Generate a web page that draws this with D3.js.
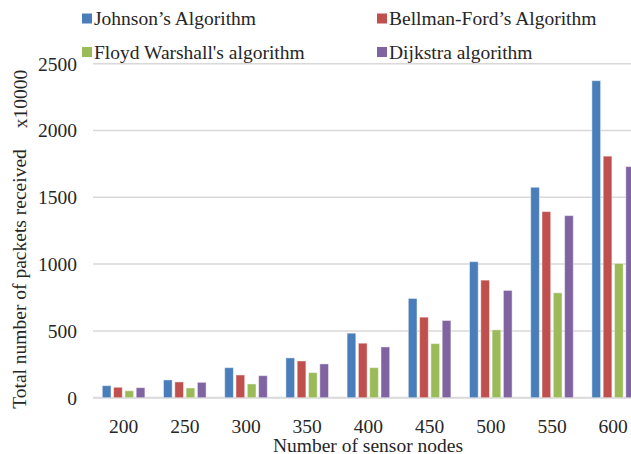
<!DOCTYPE html>
<html>
<head>
<meta charset="utf-8">
<script src="https://cdn.jsdelivr.net/npm/d3@7"></script>
<style>
  html, body { margin: 0; padding: 0; background: #fff; }
  svg { display: block; }
  svg text { font-family: 'Liberation Serif', 'Times New Roman', Times, serif; }
</style>
</head>
<body>
<svg id="chart" width="631" height="454"></svg>
<script>
const categories = ["200", "250", "300", "350", "400", "450", "500", "550", "600"];
const seriesNames = ["Johnson\u2019s Algorithm", "Bellman-Ford\u2019s Algorithm", "Floyd Warshall's algorithm", "Dijkstra algorithm"];
const johnson     = [90, 133, 225, 298, 483, 743, 1018, 1575, 2373];
const bellmanFord = [78, 118, 170, 275, 408, 603, 880, 1393, 1808];
const floyd       = [52, 73, 103, 188, 225, 405, 508, 785, 1005];
const dijkstra    = [75, 115, 165, 253, 380, 578, 803, 1363, 1730];
const yTicks = [0, 500, 1000, 1500, 2000, 2500];
const colors = ["#4a7ebb", "#c0504d", "#9bbb59", "#8064a2"];

const series = [johnson, bellmanFord, floyd, dijkstra];
const FONT = "'Liberation Serif', 'Times New Roman', Times, serif";
const svg = d3.select("#chart");

const x = d3.scaleBand().domain(categories).range([93, 643.8]).padding(0);
const y = d3.scaleLinear().domain([0, 2500]).range([397.7, 63.7]);

// gridlines
svg.append("g").selectAll("line").data(yTicks).join("line")
  .attr("x1", 93).attr("x2", 650)
  .attr("y1", d => y(d)).attr("y2", d => y(d))
  .attr("stroke", "#d9d9d9").attr("stroke-width", d => d === 0 ? 2 : 1.5);

// y tick labels
svg.append("g").selectAll("text").data(yTicks).join("text")
  .attr("x", 77).attr("y", d => y(d)).attr("dy", "0.35em")
  .attr("text-anchor", "end").attr("font-family", FONT).attr("font-size", "19.5px").attr("fill", "#262626")
  .text(d => d);

// x tick labels
svg.append("g").selectAll("text").data(categories).join("text")
  .attr("x", d => x(d) + x.bandwidth() / 2).attr("y", 432.5)
  .attr("text-anchor", "middle").attr("font-family", FONT).attr("font-size", "19.5px").attr("fill", "#262626")
  .text(d => d);

// bars
const barW = 8.7, step = 11.3;
const bars = svg.append("g");
series.forEach((vals, si) => {
  bars.append("g").selectAll("rect").data(vals.map((v, i) => ({ c: categories[i], v }))).join("rect")
    .attr("x", d => x(d.c) + x.bandwidth() / 2 + (si - 1.5) * step - barW / 2)
    .attr("y", d => y(d.v))
    .attr("width", barW)
    .attr("height", d => y(0) - y(d.v))
    .attr("fill", colors[si])
    .attr("stroke", "#ffffff").attr("stroke-opacity", 0.45).attr("stroke-width", 1);
});

// axis titles
svg.append("text")
  .attr("x", 368).attr("y", 451.5).attr("text-anchor", "middle")
  .attr("font-family", FONT).attr("font-size", "19.5px").attr("fill", "#262626")
  .text("Number of sensor nodes");

svg.append("text")
  .attr("transform", "translate(25.5,279) rotate(-90)")
  .attr("text-anchor", "middle").attr("font-family", FONT).attr("font-size", "19.5px").attr("fill", "#262626")
  .text("Total number of packets received");

svg.append("text")
  .attr("transform", "translate(26.5,99) rotate(-90)")
  .attr("text-anchor", "middle").attr("font-family", FONT).attr("font-size", "19.5px").attr("fill", "#262626")
  .text("x10000");

// legend
const legendPos = [[82, 13.5], [377, 13.5], [82, 47], [377, 47]];
const lg = svg.append("g");
seriesNames.forEach((name, i) => {
  const [lx, ly] = legendPos[i];
  lg.append("rect").attr("x", lx).attr("y", ly).attr("width", 10).attr("height", 10).attr("fill", colors[i]);
  lg.append("text").attr("x", lx + 12).attr("y", ly + 11.5)
    .attr("font-family", FONT).attr("font-size", "19.5px").attr("fill", "#262626").text(name);
});
</script>
</body>
</html>
